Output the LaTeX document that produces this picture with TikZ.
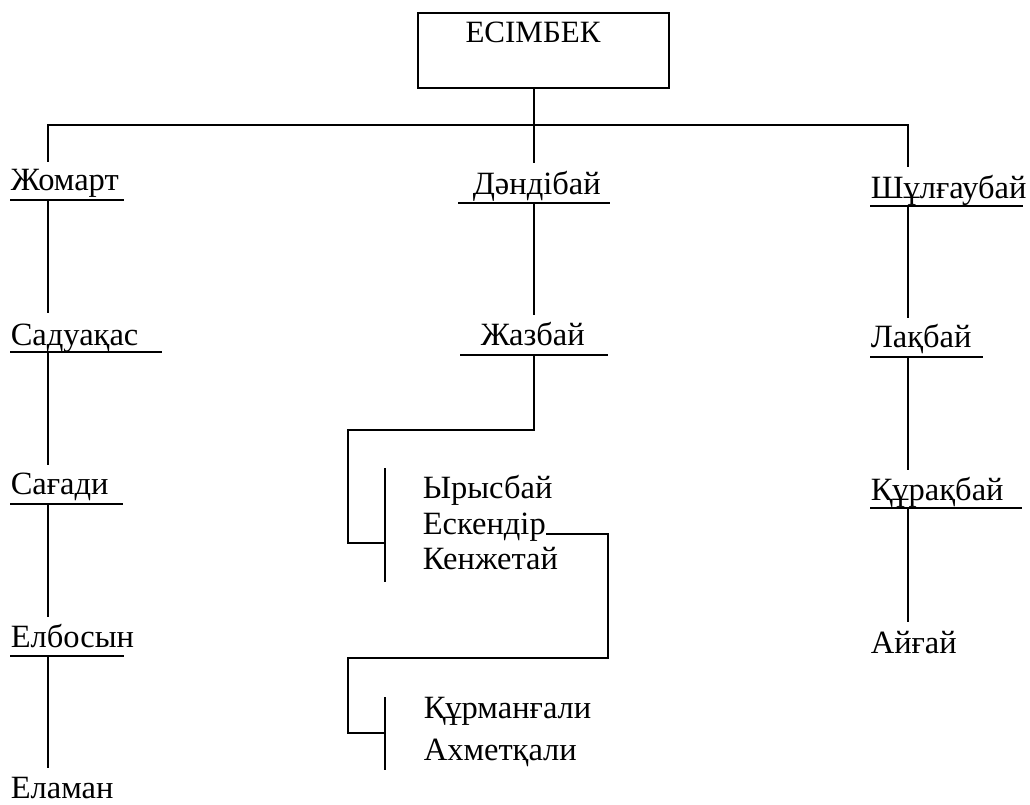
\documentclass[tikz,border=0pt]{standalone}
\usepackage{fontspec}
\setmainfont{Liberation Serif}
\begin{document}
\begin{tikzpicture}[x=1pt,y=-1pt,line width=1.6pt,
  person/.style={anchor=base west,inner sep=0pt,font=\fontsize{32.5}{38}\selectfont},
  link/.style={line width=1.6pt}]
\useasboundingbox (0,0) rectangle (1030,805);
% root
\node[draw,line width=1.6pt,minimum width=251pt,minimum height=75pt,inner sep=0pt] (root) at (543.5,50.5) {};
\node[anchor=base,inner sep=0pt,font=\fontsize{31}{36}\selectfont] (rootname) at (533,43) {ЕСІМБЕК};
% left column
\node[person] (jom) at (10,190) {Жомарт};
\node[person] (sad) at (10,345) {Садуақас};
\node[person] (sag) at (10,494) {Сағади};
\node[person] (elb) at (10,647) {Елбосын};
\node[person] (ela) at (10,798) {Еламан};
% middle column
\node[person] (dan) at (472,195) {Дәндібай};
\node[person] (zhaz) at (480,345) {Жазбай};
\node[person] (iry) at (422,498) {Ырысбай};
\node[person] (esk) at (422,534) {Ескендір};
\node[person] (ken) at (422,569) {Кенжетай};
\node[person] (kurm) at (423,718) {Құрманғали};
\node[person] (ahm) at (423,760) {Ахметқали};
% right column
\node[person] (shu) at (870,198) {Шұлғаубай};
\node[person] (laq) at (870,347) {Лақбай};
\node[person] (qur) at (870,500) {Құрақбай};
\node[person] (ayg) at (870,653) {Айғай};
% coordinates
\coordinate (bus) at (534,125);
\coordinate (jomT) at (48,162);
\coordinate (danT) at (534,163);
\coordinate (shuT) at (908,167);
\coordinate (jomU) at (48,200);   \coordinate (sadT) at (48,313);
\coordinate (sadU) at (48,352);   \coordinate (sagT) at (48,465);
\coordinate (sagU) at (48,504);   \coordinate (elbT) at (48,617);
\coordinate (elbU) at (48,656);   \coordinate (elaT) at (48,768);
\coordinate (danU) at (534,203);  \coordinate (zhazT) at (534,315);
\coordinate (zhazU) at (534,355); \coordinate (br1) at (534,430);
\coordinate (eskR) at (608,534);
\coordinate (shuU) at (908,206);  \coordinate (laqT) at (908,318);
\coordinate (laqU) at (908,357);  \coordinate (qurT) at (908,470);
\coordinate (qurU) at (908,508);  \coordinate (aygT) at (908,622);
% underlines
\draw[link] (10,200) -- (124,200);
\draw[link] (10,352) -- (162,352);
\draw[link] (10,504) -- (123,504);
\draw[link] (10,656) -- (124,656);
\draw[link] (458,203) -- (610,203);
\draw[link] (460,355) -- (608,355);
\draw[link] (870,206) -- (1023,206);
\draw[link] (870,357) -- (983,357);
\draw[link] (870,508) -- (1022,508);
% top connectors
\draw[link] (root.south -| bus) -- (bus);
\draw[link] (jomT) -- (jomT |- bus) -- (shuT |- bus) -- (shuT);
\draw[link] (bus) -- (danT);
% left chain
\draw[link] (jomU) -- (sadT);
\draw[link] (sadU) -- (sagT);
\draw[link] (sagU) -- (elbT);
\draw[link] (elbU) -- (elaT);
% right chain
\draw[link] (shuU) -- (laqT);
\draw[link] (laqU) -- (qurT);
\draw[link] (qurU) -- (aygT);
% middle chain
\draw[link] (danU) -- (zhazT);
\draw[link] (zhazU) -- (br1) -- (348,430) -- (348,543) -- (385,543);
\draw[link] (385,468) -- (385,582);
\draw[link] (esk.base east) -- (eskR) -- (608,658) -- (348,658) -- (348,733) -- (385,733);
\draw[link] (385,697) -- (385,770);
\end{tikzpicture}
\end{document}
